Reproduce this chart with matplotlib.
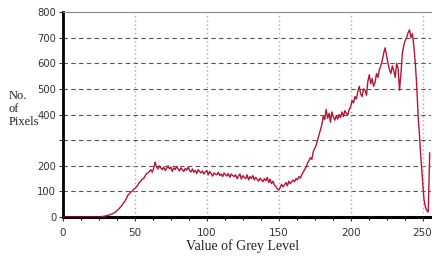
"""
Grey level histogram (No. of Pixels vs Value of Grey Level).
"""

import numpy as np
from matplotlib import pyplot as plt

# histogram counts, one per grey level 0..255
zeros_start = [0] * 27
counts_27_39 = [2, 3, 4, 5, 7, 8, 10, 12, 15, 18, 22, 28, 33]
counts_40_99 = [40, 46, 55, 62, 72, 85, 90, 98, 100, 108,
                112, 118, 125, 135, 140, 148, 150, 160, 170, 172,
                178, 185, 175, 190, 215, 195, 188, 200, 192, 185,
                195, 182, 190, 200, 188, 195, 178, 192, 185, 198,
                188, 180, 192, 185, 178, 190, 183, 195, 182, 176,
                188, 175, 182, 170, 185, 178, 172, 180, 168, 176]
counts_100_169 = [182, 165, 178, 170, 160, 172, 168, 165, 175, 162,
                  168, 158, 172, 165, 160, 170, 155, 168, 162, 158,
                  165, 150, 160, 168, 148, 162, 155, 150, 165, 145,
                  158, 150, 162, 145, 155, 148, 140, 152, 145, 138,
                  150, 142, 155, 135, 148, 130, 140, 125, 120, 110,
                  105, 115, 128, 118, 125, 135, 122, 140, 130, 138,
                  145, 138, 150, 145, 158, 152, 165, 175, 185, 195]
counts_170_255 = [210, 220, 232, 225, 255, 268, 280, 300, 320, 340,
                  360, 395, 380, 420, 385, 405, 370, 410, 390, 378,
                  395, 382, 400, 388, 410, 392, 415, 405, 398, 420,
                  430, 455, 445, 470, 460, 490, 510, 480, 470, 500,
                  495, 475, 530, 555, 520, 540, 510, 525, 560, 545,
                  575, 590, 610, 640, 660, 630, 600, 575, 560, 590,
                  570, 545, 600, 580, 495, 560, 640, 670, 690, 700,
                  720, 730, 700, 715, 665, 600, 510, 390, 310, 220,
                  145, 70, 40, 25, 20, 250]

counts = zeros_start + counts_27_39 + counts_40_99 + counts_100_169 + counts_170_255
grey_levels = np.arange(len(counts))

y_ticks = [0, 100, 200, 300, 400, 500, 600, 700, 800]
y_tick_labels = ['0', '100', '200', '', '400', '500', '600', '700', '800']
x_ticks = [0, 50, 100, 150, 200, 250]


def plot_histogram():
    fig = plt.figure(figsize=(4.32, 2.60), dpi=100)
    ax = fig.add_axes([0.146, 0.165, 0.852, 0.789])

    ax.plot(grey_levels, counts, color='#b51535', lw=1.0, zorder=3)

    ax.set_xlim(0, 256)
    ax.set_ylim(0, 800)
    ax.set_yticks(y_ticks)
    ax.set_yticklabels(y_tick_labels)
    ax.set_xticks(x_ticks)
    ax.set_xticks(np.arange(0, 257, 12.5), minor=True)
    ax.tick_params(labelsize=7.5, colors='#333333', length=3, width=0.8)
    ax.tick_params(axis='x', which='minor', length=2, width=0.8)
    ax.tick_params(axis='x', pad=5)
    ax.tick_params(axis='y', labelsize=7.2, pad=2)

    # grid lines
    for y in y_ticks[1:-1]:
        ax.axhline(y, color='#555555', lw=0.8, ls=(0, (4, 3)), zorder=1)
    for x in x_ticks[1:]:
        ax.axvline(x, color='#aaaaaa', lw=1.0, ls=(0, (1, 2)), zorder=1)

    ax.spines['left'].set_linewidth(2)
    ax.spines['bottom'].set_linewidth(2.2)
    ax.spines['top'].set_color('#888888')
    ax.spines['right'].set_visible(False)

    fig.text(0.02, 0.58, 'No.\nof\nPixels', family='Liberation Serif',
             fontsize=9, va='center', ha='left', linespacing=1.1, color='#222222')
    fig.text(0.562, 0.054, 'Value of Grey Level', family='Liberation Serif',
             fontsize=10, va='center', ha='center', color='#222222')

    fig.savefig('out.png', dpi=100)


if __name__ == '__main__':
    plot_histogram()
